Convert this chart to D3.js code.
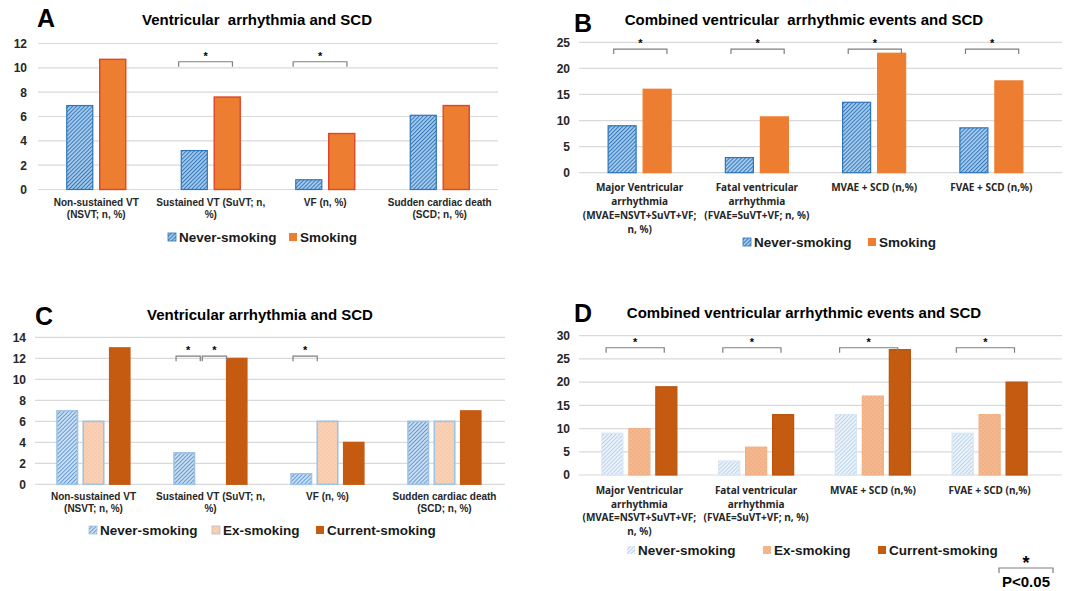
<!DOCTYPE html>
<html>
<head>
<meta charset="utf-8">
<script src="https://cdnjs.cloudflare.com/ajax/libs/d3/7.8.5/d3.min.js"></script>
<style>
  body { margin: 0; background: #fff; }
  svg { display: block; font-family: "Liberation Sans", Arial, sans-serif; }
</style>
</head>
<body>
<script>
// ---- data ----
var catsVA = [["Non-sustained VT", "(NSVT; n, %)"], ["Sustained VT (SuVT; n,", "%)"], ["VF (n, %)"], ["Sudden cardiac death", "(SCD; n, %)"]];
var catsCVE = [["Major Ventricular", "arrhythmia", "(MVAE=NSVT+SuVT+VF;", "n, %)"], ["Fatal ventricular", "arrhythmia", "(FVAE=SuVT+VF; n, %)"], ["MVAE + SCD (n,%)"], ["FVAE + SCD (n,%)"]];

var neverA = [6.9, 3.2, 0.8, 6.1];
var smokingA = [10.7, 7.6, 4.6, 6.9];

var neverB = [9.0, 2.9, 13.5, 8.6];
var smokingB = [16.0, 10.7, 22.9, 17.6];

var neverC = [7, 3, 1, 6];
var exC = [6, 0, 6, 6];
var currentC = [13, 12, 4, 7];

var neverD = [9, 3, 13, 9];
var exD = [10, 6, 17, 13];
var currentD = [19, 13, 27, 20];

var ticksA = [0, 2, 4, 6, 8, 10, 12];
var ticksB = [0, 5, 10, 15, 20, 25];
var ticksC = [0, 2, 4, 6, 8, 10, 12, 14];
var ticksD = [0, 5, 10, 15, 20, 25, 30];

// significance brackets: [category, from series, to series]
var sigA = [[1, 0, 1], [2, 0, 1]];
var sigB = [[0, 0, 1], [1, 0, 1], [2, 0, 1], [3, 0, 1]];
var sigC = [[1, 0, 1], [1, 1, 2], [2, 0, 1]];
var sigD = [[0, 0, 2], [1, 0, 2], [2, 0, 2], [3, 0, 2]];

var W = 1067, H = 591;
var svg = d3.select("body").append("svg").attr("width", W).attr("height", H);
var defs = svg.append("defs");

// hatch / dot fills
function hatch(id, bg, fg, sw) {
  var s = 2.8;
  var p = defs.append("pattern").attr("id", id).attr("patternUnits", "userSpaceOnUse")
    .attr("width", s).attr("height", s).attr("patternTransform", "rotate(45)");
  p.append("rect").attr("width", s).attr("height", s).attr("fill", bg);
  p.append("line").attr("x1", 0.5).attr("y1", 0).attr("x2", 0.5).attr("y2", s)
    .attr("stroke", fg).attr("stroke-width", sw);
}
function dots(id, bg, fg) {
  var p = defs.append("pattern").attr("id", id).attr("patternUnits", "userSpaceOnUse")
    .attr("width", 4).attr("height", 4);
  p.append("rect").attr("width", 4).attr("height", 4).attr("fill", bg);
  p.append("circle").attr("cx", 1).attr("cy", 1).attr("r", 0.6).attr("fill", fg);
  p.append("circle").attr("cx", 3).attr("cy", 3).attr("r", 0.6).attr("fill", fg);
}
hatch("hA", "#a9ccec", "#3579bb", 1.1);
hatch("hC", "#cfe1f3", "#5e98d2", 1.0);
hatch("hD", "#eef4fb", "#b7d2ec", 1.0);
dots("dC", "#f8cbad", "#fde8da");
dots("dD", "#f2b184", "#fcd9c0");

function panel(p) {
  var g = svg.append("g");
  var x = d3.scaleBand().domain(d3.range(p.cats.length)).range(p.xr);
  var y = d3.scaleLinear().domain([0, p.ymax]).range(p.yr);
  var xs = d3.scaleBand().domain(d3.range(p.series.length))
    .range([-p.gw / 2, p.gw / 2]).paddingInner(p.pad);
  var cx = function(i) { return x(i) + x.bandwidth() / 2; };

  // gridlines
  g.selectAll("line.grid").data(p.ticks).join("line").attr("class", "grid")
    .attr("x1", p.gx[0]).attr("x2", p.gx[1])
    .attr("y1", function(d) { return y(d); }).attr("y2", function(d) { return y(d); })
    .attr("stroke", "#d9d9d9").attr("stroke-width", 1.2);

  // y axis labels
  var ax = g.append("g").attr("transform", "translate(" + p.tx + ",0)")
    .call(d3.axisLeft(y).tickValues(p.ticks).tickSize(0).tickPadding(0).tickFormat(d3.format("d")));
  ax.select(".domain").remove();
  ax.selectAll("text").attr("font-size", 12).attr("font-weight", "bold").attr("fill", "#262626")
    .attr("font-family", "Liberation Sans, Arial, sans-serif");

  // bars
  p.series.forEach(function(s, si) {
    g.selectAll(null).data(s.values.map(function(v, i) { return {v: v, i: i}; }).filter(function(d) { return d.v > 0; }))
      .join("rect")
      .attr("x", function(d) { return cx(d.i) + xs(si); })
      .attr("width", xs.bandwidth())
      .attr("y", function(d) { return y(d.v); })
      .attr("height", function(d) { return y(0) - y(d.v); })
      .attr("fill", s.fill).attr("stroke", s.stroke).attr("stroke-width", s.sw || 1.2);
  });

  // significance brackets
  var by = y(p.sigLevel);
  p.sig.forEach(function(b) {
    var x1 = cx(b[0]) + xs(b[1]) + xs.bandwidth() * (0.5 + p.sa);
    var x2 = cx(b[0]) + xs(b[2]) + xs.bandwidth() * (0.5 + p.sb);
    g.append("path").attr("d", "M" + x1 + "," + (by + 5) + "V" + by + "H" + x2 + "V" + (by + 5))
      .attr("fill", "none").attr("stroke", "#7f7f7f").attr("stroke-width", 1.2);
    g.append("text").attr("x", (x1 + x2) / 2).attr("y", by - 2).attr("text-anchor", "middle")
      .attr("font-size", 11).attr("font-weight", "bold").text("*");
  });

  // category labels
  p.cats.forEach(function(lines, i) {
    var t = g.append("text").attr("text-anchor", "middle").attr("font-size", p.catSize)
      .attr("font-weight", "bold").attr("font-family", p.catFont).attr("fill", "#262626");
    lines.forEach(function(l, k) {
      t.append("tspan").attr("x", cx(i)).attr("y", p.ly + k * p.lh).text(l);
    });
  });

  // panel letter and title
  g.append("text").attr("x", p.letter[1]).attr("y", p.letter[2]).attr("font-size", 25)
    .attr("font-weight", "bold").text(p.letter[0]);
  g.append("text").attr("x", p.title[1]).attr("y", p.title[2]).attr("text-anchor", "middle")
    .attr("font-size", 15).attr("font-weight", "bold").style("white-space", "pre").text(p.title[0]);

  // legend
  p.series.forEach(function(s, si) {
    var lx = p.legX[si];
    g.append("rect").attr("x", lx).attr("y", p.legY - 9).attr("width", 8).attr("height", 8)
      .attr("fill", s.fill).attr("stroke", s.legStroke || "none").attr("stroke-width", 0.8);
    g.append("text").attr("x", lx + 11).attr("y", p.legY).attr("font-size", 13.5)
      .attr("font-weight", "bold").attr("fill", "#1a1a1a").text(s.name);
  });
}

var labFont = "Liberation Sans, Arial, sans-serif";
var labFont2 = "Noto Sans, Liberation Sans, sans-serif";

panel({
  cats: catsVA, ymax: 12, ticks: ticksA, xr: [39, 497], yr: [189.5, 43.5], gx: [38, 498], tx: 27,
  gw: 59, pad: 0.21,
  series: [
    {name: "Never-smoking", values: neverA, fill: "url(#hA)", stroke: "#2e75b6", legStroke: "#2e75b6"},
    {name: "Smoking", values: smokingA, fill: "#ed7d31", stroke: "#e0452b", sw: 1.4}
  ],
  sig: sigA, sigLevel: 10.5, sa: -0.6, sb: 0.2,
  catSize: 10, catFont: labFont, ly: 206, lh: 12,
  letter: ["A", 37, 27], title: ["Ventricular  arrhythmia and SCD", 257, 25],
  legX: [168, 289], legY: 242
});

panel({
  cats: catsCVE, ymax: 25, ticks: ticksB, xr: [581, 1050], yr: [172.7, 42.3], gx: [579, 1062], tx: 570,
  gw: 63, pad: 0.2,
  series: [
    {name: "Never-smoking", values: neverB, fill: "url(#hA)", stroke: "#2e75b6", legStroke: "#2e75b6"},
    {name: "Smoking", values: smokingB, fill: "#ed7d31", stroke: "#ed7d31"}
  ],
  sig: sigB, sigLevel: 23.7, sa: -0.3, sb: 0.35,
  catSize: 10, catFont: labFont2, ly: 191, lh: 14,
  letter: ["B", 574, 32], title: ["Combined ventricular  arrhythmic events and SCD", 804, 25],
  legX: [743, 868], legY: 247
});

panel({
  cats: catsVA, ymax: 14, ticks: ticksC, xr: [35, 503], yr: [484.3, 337.3], gx: [35, 505], tx: 26,
  gw: 73, pad: 0.22,
  series: [
    {name: "Never-smoking", values: neverC, fill: "url(#hC)", stroke: "#9dc3e6", sw: 1.6, legStroke: "#9dc3e6"},
    {name: "Ex-smoking", values: exC, fill: "url(#dC)", stroke: "#9dc3e6", sw: 1.6, legStroke: "#bcbcbc"},
    {name: "Current-smoking", values: currentC, fill: "#c55a11", stroke: "#c55a11"}
  ],
  sig: sigC, sigLevel: 12.2, sa: -0.4, sb: -0.5,
  catSize: 10, catFont: labFont, ly: 500, lh: 12,
  letter: ["C", 35, 325], title: ["Ventricular arrhythmia and SCD", 260, 320],
  legX: [89, 212, 316], legY: 535
});

panel({
  cats: catsCVE, ymax: 30, ticks: ticksD, xr: [581, 1048], yr: [475, 335.7], gx: [579, 1062], tx: 570,
  gw: 75, pad: 0.22,
  series: [
    {name: "Never-smoking", values: neverD, fill: "url(#hD)", stroke: "#d6e6f5"},
    {name: "Ex-smoking", values: exD, fill: "url(#dD)", stroke: "#f2b184"},
    {name: "Current-smoking", values: currentD, fill: "#c55a11", stroke: "#b9530f"}
  ],
  sig: sigD, sigLevel: 27.4, sa: -0.3, sb: -0.1,
  catSize: 10, catFont: labFont2, ly: 494, lh: 13.5,
  letter: ["D", 574, 322], title: ["Combined ventricular arrhythmic events and SCD", 804, 318],
  legX: [627, 763, 878], legY: 555
});

// P<0.05 key
var key = svg.append("g");
key.append("path").attr("d", "M999,573V568H1053V573").attr("fill", "none").attr("stroke", "#7f7f7f").attr("stroke-width", 1.2);
key.append("text").attr("x", 1026).attr("y", 569).attr("text-anchor", "middle").attr("font-size", 18).attr("font-weight", "bold").text("*");
key.append("text").attr("x", 1026).attr("y", 587).attr("text-anchor", "middle").attr("font-size", 15).attr("font-weight", "bold").text("P<0.05");
</script>
</body>
</html>
